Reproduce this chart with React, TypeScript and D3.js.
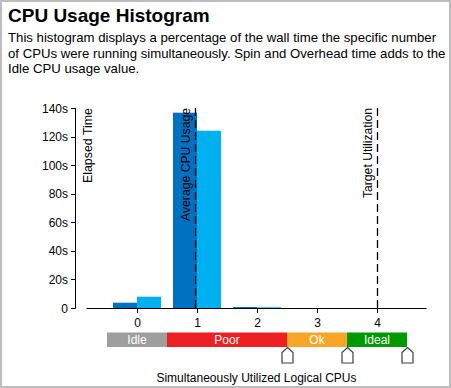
import React from "react";
import * as d3 from "d3";

const title = "CPU Usage Histogram";
const descriptionLines = [
  "This histogram displays a percentage of the wall time the specific number",
  "of CPUs were running simultaneously. Spin and Overhead time adds to the",
  "Idle CPU usage value.",
];
const cpuCounts = [0, 1, 2, 3, 4];
const seriesDark = [3.7, 136.7, 0.7, 0, 0];
const seriesLight = [7.9, 124.1, 0.5, 0, 0];
const yTicks = [0, 20, 40, 60, 80, 100, 120, 140];
const yTickLabels = ["0", "20s", "40s", "60s", "80s", "100s", "120s", "140s"];
const refLines = [
  { label: "Average CPU Usage", value: 0.963 },
  { label: "Target Utilization", value: 4 },
];
const zones = [
  { label: "Idle", from: -0.5, to: 0.5, color: "#9e9e9e" },
  { label: "Poor", from: 0.5, to: 2.5, color: "#ee2024" },
  { label: "Ok", from: 2.5, to: 3.5, color: "#f9a628" },
  { label: "Ideal", from: 3.5, to: 4.5, color: "#009a00" },
];
const markerValues = [2.5, 3.5, 4.5];
const yAxisLabel = "Elapsed Time";
const xAxisLabel = "Simultaneously Utilized Logical CPUs";

const FONT = "'Liberation Sans', Arial, sans-serif";

export default function App() {
  const W = 451;
  const H = 388;
  const x = d3.scaleLinear().domain([-0.8417, 4.825]).range([86.5, 426.5]);
  const y = d3.scaleLinear().domain([0, 140]).range([308, 108]);
  const yAxisX = 75;
  const barW = 24;
  const legendTop = 332.5;
  const legendH = 14.5;

  return (
    <svg
      width={W}
      height={H}
      style={{ position: "absolute", left: 0, top: 0, fontFamily: FONT }}
    >
      <rect x={0} y={0} width={W} height={H} fill="#fff" />
      <rect x={1} y={1} width={W - 2} height={H - 2} fill="none" stroke="#bdbdbd" strokeWidth={2} />
      <text x={8} y={22} fontSize={19} fontWeight="bold" fill="#000">
        {title}
      </text>
      {descriptionLines.map((l, i) => (
        <text key={i} x={8} y={42 + i * 15.7} fontSize={13.2} fill="#000">
          {l}
        </text>
      ))}

      {/* bars */}
      {cpuCounts.map((c, i) => {
        const cx = Math.round(x(c));
        return (
          <g key={c}>
            {seriesDark[i] > 0 && (
              <rect
                x={cx - barW}
                y={y(seriesDark[i])}
                width={barW}
                height={y(0) - y(seriesDark[i])}
                fill="#0070c0"
              />
            )}
            {seriesLight[i] > 0 && (
              <rect
                x={cx}
                y={y(seriesLight[i])}
                width={barW}
                height={y(0) - y(seriesLight[i])}
                fill="#00b0f0"
              />
            )}
          </g>
        );
      })}

      {/* y axis */}
      <line x1={yAxisX + 0.5} x2={yAxisX + 0.5} y1={y(140)} y2={y(0) + 0.5} stroke="#000" />
      {yTicks.map((t, i) => (
        <g key={t}>
          <line x1={yAxisX - 4} x2={yAxisX + 0.5} y1={Math.round(y(t)) + 0.5} y2={Math.round(y(t)) + 0.5} stroke="#000" />
          <text x={yAxisX - 7} y={y(t) + 4.5} fontSize={12} textAnchor="end" fill="#000">
            {yTickLabels[i]}
          </text>
        </g>
      ))}
      <text
        transform={`translate(92,${y(140)}) rotate(-90)`}
        fontSize={12.4}
        textAnchor="end"
        fill="#000"
      >
        {yAxisLabel}
      </text>

      {/* x axis */}
      <line x1={x.range()[0]} x2={x.range()[1]} y1={308.5} y2={308.5} stroke="#000" />
      {cpuCounts.map((c) => (
        <g key={c}>
          <line x1={Math.round(x(c)) + 0.5} x2={Math.round(x(c)) + 0.5} y1={308} y2={313} stroke="#000" />
          <text x={x(c) + 0.5} y={327} fontSize={12} textAnchor="middle" fill="#000">
            {c}
          </text>
        </g>
      ))}

      {/* reference lines */}
      {refLines.map((r) => {
        const lx = Math.round(x(r.value)) + 0.5;
        return (
          <g key={r.label}>
            <line
              x1={lx}
              x2={lx}
              y1={y(140)}
              y2={y(0)}
              stroke="#000"
              strokeWidth={1.3}
              strokeDasharray="8,4"
            />
            <text
              transform={`translate(${lx - 6},${y(140)}) rotate(-90)`}
              fontSize={12.2}
              textAnchor="end"
              fill="#000"
            >
              {r.label}
            </text>
          </g>
        );
      })}

      {/* zone legend */}
      {zones.map((z) => (
        <g key={z.label}>
          <rect
            x={x(z.from)}
            y={legendTop}
            width={x(z.to) - x(z.from)}
            height={legendH}
            fill={z.color}
          />
          <text
            x={(x(z.from) + x(z.to)) / 2}
            y={legendTop + 11}
            fontSize={12}
            textAnchor="middle"
            fill="#fff"
          >
            {z.label}
          </text>
        </g>
      ))}
      {markerValues.map((m) => {
        const mx = Math.round(x(m)) + 0.5;
        const top = 347.5;
        const path = d3.path();
        path.moveTo(mx, top);
        path.lineTo(mx + 5.5, top + 5);
        path.lineTo(mx + 5.5, top + 15.5);
        path.lineTo(mx - 5.5, top + 15.5);
        path.lineTo(mx - 5.5, top + 5);
        path.closePath();
        return <path key={m} d={path.toString()} fill="#fff" stroke="#404040" strokeWidth={1.2} />;
      })}
      <text x={256.5} y={382} fontSize={12} textAnchor="middle" fill="#000">
        {xAxisLabel}
      </text>
    </svg>
  );
}
